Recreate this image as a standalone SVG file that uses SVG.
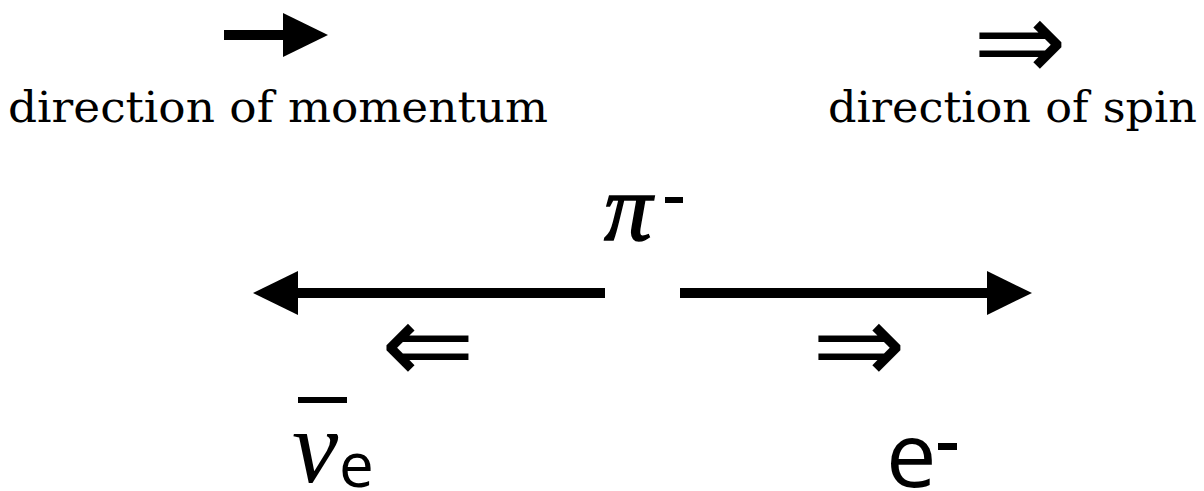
<svg xmlns="http://www.w3.org/2000/svg" width="1204" height="491" viewBox="0 0 1204 491">
  <defs>
    <marker id="head" markerUnits="userSpaceOnUse" markerWidth="45" markerHeight="44" refX="0" refY="22" orient="auto" viewBox="0 0 45 44">
      <path d="M0,0 L45,22 L0,44 Z" fill="#000"/>
    </marker>
    <style>
      .legend { font-family: "DejaVu Serif", "Liberation Serif", serif; font-size: 42px; fill: #000; }
      .spin { font-family: "DejaVu Sans", "Liberation Sans", sans-serif; font-size: 112px; fill: #000; }
      .shaft { stroke: #000; stroke-width: 10; fill: none; marker-end: url(#head); }
      .sym { font-family: "Open Sans", "Noto Sans", sans-serif; fill: #000; }
      .greek { font-family: "Liberation Serif", "DejaVu Serif", serif; font-style: italic; fill: #000; }
    </style>
  </defs>
  <rect width="1204" height="491" fill="#fff"/>

  <g id="legend-momentum">
    <line class="shaft" x1="224" y1="35" x2="283" y2="35" stroke-width="12"/>
    <text class="legend" x="8" y="122" textLength="540" lengthAdjust="spacingAndGlyphs">direction of momentum</text>
  </g>

  <g id="legend-spin">
    <text class="spin" x="973" y="80">⇒</text>
    <text class="legend" x="828" y="122" textLength="369" lengthAdjust="spacingAndGlyphs">direction of spin</text>
  </g>

  <g id="pion">
    <text class="greek" x="604" y="240" font-size="96" stroke="#000" stroke-width="1.5">π</text>
    <rect x="665" y="197" width="18" height="6" fill="#000"/>
  </g>

  <g id="connectors">
    <line class="shaft" x1="605" y1="293" x2="298" y2="293"/>
    <line class="shaft" x1="680" y1="293" x2="987" y2="293"/>
  </g>

  <g id="antineutrino">
    <text class="spin" x="381" y="383">⇐</text>
    <rect x="298" y="397" width="49" height="6" fill="#000"/>
    <text class="greek" x="292" y="482" font-size="104">ν</text>
    <text class="sym" x="339" y="487" font-size="62">e</text>
  </g>

  <g id="electron">
    <text class="spin" x="812" y="383">⇒</text>
    <text class="sym" x="886" y="487" font-size="90">e</text>
    <rect x="938" y="443" width="19" height="7" fill="#000"/>
  </g>
</svg>
